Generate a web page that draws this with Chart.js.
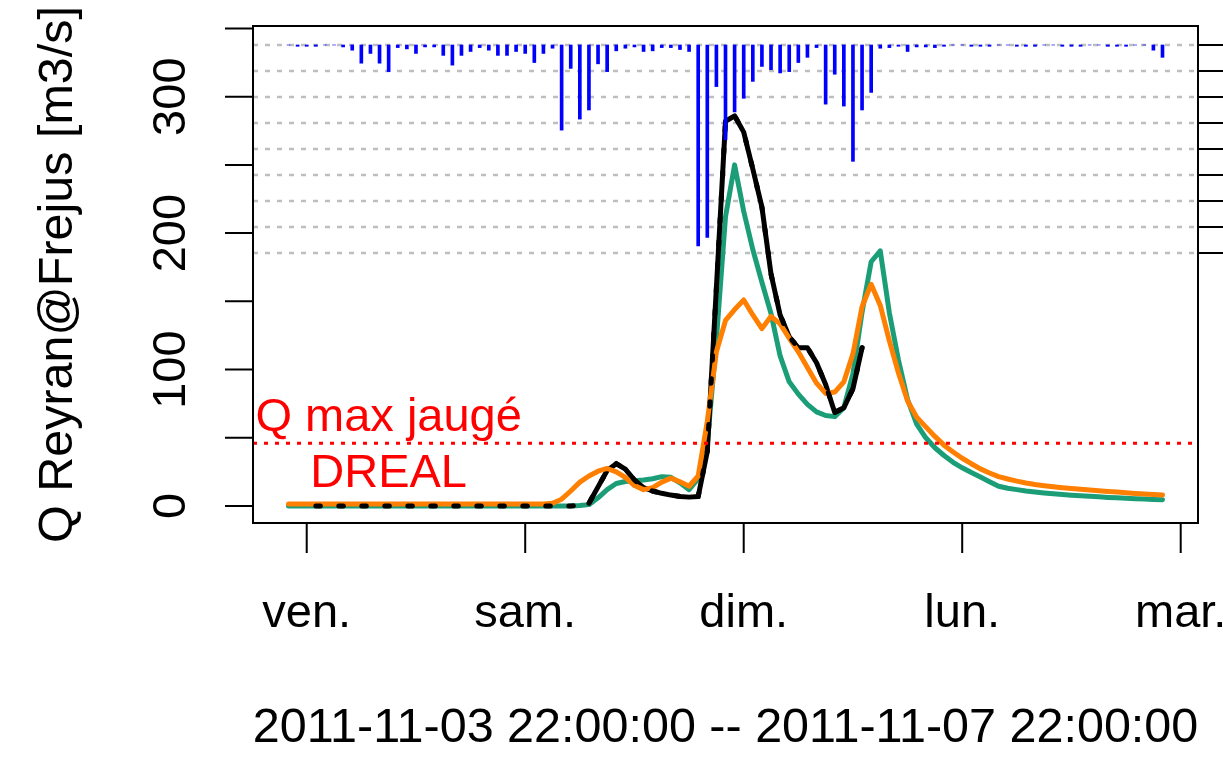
<!DOCTYPE html>
<html>
<head>
<meta charset="utf-8">
<script src="https://cdn.jsdelivr.net/npm/chart.js@4"></script>
<style>
  html, body { margin: 0; padding: 0; background: #fff; overflow: hidden; }
</style>
</head>
<body>
<canvas id="hydro" width="1223" height="764"></canvas>
<script>
// hourly series, first value at 2011-11-03 22:00 (hour -2 relative to ven. 00:00)
var startHour = -2;

// rain, mm per hour (hanging from the top)
var rain = [
  0, 0.1, 0.1, 0.1, 0, 0, 0.15, 0.4, 1.4, 0.65,
  1.4, 2.05, 0.2, 0.3, 0.65, 0.15, 0.15, 0.8, 1.55, 0.8,
  0.5, 0.2, 0.4, 0.8, 0.8, 0.5, 0.65, 1.35, 0.65, 0.25,
  6.55, 1.8, 5.7, 5.0, 1.45, 2.05, 0.45, 0.25, 0.15, 0.5,
  0.45, 0.2, 0.2, 0.35, 0.5, 15.45, 14.8, 3.2, 7.3, 5.15,
  4.1, 2.8, 1.65, 1.9, 2.15, 2.05, 1.35, 0.95, 0.2, 4.55,
  2.25, 4.7, 8.95, 5.0, 3.65, 0.25, 0.2, 0.1, 0.5, 0.15,
  0.15, 0.2, 0.1, 0, 0, 0.1, 0.1, 0.1, 0, 0,
  0.1, 0.1, 0.1, 0, 0, 0.1, 0.1, 0.1, 0, 0,
  0.1, 0.1, 0.1, 0, 0, 0.4, 0.95
];

// simulated discharge, green
var simGreen = [
  0, 0, 0, 0, 0, 0, 0, 0, 0, 0,
  0, 0, 0, 0, 0, 0, 0, 0, 0, 0,
  0, 0, 0, 0, 0, 0, 0, 0, 0, 0,
  0, 0, 0.3, 1, 6, 12, 16.5, 18, 18.5, 19,
  20, 21.5, 21, 17, 12, 20, 45, 122, 212, 250,
  216, 188, 164, 141, 110, 91, 82, 74.5, 69, 66.3,
  65.5, 72, 97, 142, 179, 187, 141.5, 107, 78, 60,
  50, 42.7, 37, 32, 28, 24.5, 21.2, 17.8, 14.5, 13,
  12, 11, 10.2, 9.5, 8.9, 8.4, 7.9, 7.5, 7.1, 6.7,
  6.3, 6.0, 5.7, 5.4, 5.1, 4.8, 4.6
];

// simulated discharge, orange
var simOrange = [
  1.5, 1.5, 1.5, 1.5, 1.5, 1.5, 1.5, 1.5, 1.5, 1.5,
  1.5, 1.5, 1.5, 1.5, 1.5, 1.5, 1.5, 1.5, 1.5, 1.5,
  1.5, 1.5, 1.5, 1.5, 1.5, 1.5, 1.5, 1.5, 1.5, 2,
  5, 11, 17.5, 22, 25.5, 27.5, 25, 21, 15, 12,
  13.5, 17.5, 20.4, 17.7, 14.5, 22, 62, 113, 136, 144,
  151, 140, 130, 139, 133.5, 123, 113, 101.5, 90, 82.5,
  83.5, 91, 111.5, 146, 162.5, 147, 121, 97.5, 77, 65,
  58, 51, 44.6, 39.6, 35, 31, 27.2, 24.2, 21.5, 19.8,
  18.2, 16.9, 15.8, 14.9, 14.1, 13.4, 12.8, 12.2, 11.7, 11.2,
  10.7, 10.2, 9.7, 9.2, 8.8, 8.4, 8.0
];

// observed discharge, black
var obs = [
  null, null, null, 0, 0, 0, 0, 0, 0, 0,
  0, 0, 0, 0, 0, 0, 0, 0, 0, 0,
  0, 0, 0, 0, 0, 0, 0, 0, 0, 0,
  0, 0, 0.5, 2, 14, 26, 31, 27, 19, 13.5,
  11, 9.3, 8, 7, 6.5, 7, 40, 160, 282, 286,
  274, 247, 219, 170, 140, 124, 116, 116, 105, 89,
  68.5, 72, 86, 116, null, null, null, null, null, null,
  null, null, null, null, null, null, null, null, null, null,
  null, null, null, null, null, null, null, null, null, null,
  null, null, null, null, null, null, null
];
var obsSolidFrom = 31; // solid line only from this hour on

var dayTicks = [0, 24, 48, 72, 96];
var dayLabels = ['ven.', 'sam.', 'dim.', 'lun.', 'mar.'];
var qTicks = [0, 50, 100, 150, 200, 250, 300, 350];
var qLabels = [0, 100, 200, 300];
var rainTicks = [0, 2, 4, 6, 8, 10, 12, 14, 16];
var qMaxJauge = 46;
var xTitle = '2011-11-03 22:00:00 -- 2011-11-07 22:00:00';
var yTitle = 'Q Reyran@Frejus [m3/s]';

var hours = rain.map(function (v, i) { return startHour + i; });
function pts(arr) {
  return arr.map(function (v, i) { return { x: hours[i], y: v }; });
}

var FONT = '47px "Liberation Sans", Arial, sans-serif';
var TITLE_FONT = '48.5px "Liberation Sans", Arial, sans-serif';

// R-like axes, box, grid and texts
var rPlot = {
  id: 'rPlot',
  beforeDatasetsDraw: function (chart) {
    var ctx = chart.ctx, a = chart.chartArea, rs = chart.scales.rain;
    ctx.save();
    ctx.strokeStyle = '#bebebe';
    ctx.lineWidth = 2.5;
    ctx.setLineDash([5, 7]);
    rainTicks.forEach(function (t) {
      var y = rs.getPixelForValue(t);
      ctx.beginPath(); ctx.moveTo(a.left, y); ctx.lineTo(a.right, y); ctx.stroke();
    });
    ctx.restore();
  },
  afterDatasetsDraw: function (chart) {
    var ctx = chart.ctx, a = chart.chartArea;
    var xs = chart.scales.x, ys = chart.scales.y;
    ctx.save();
    ctx.beginPath(); ctx.rect(a.left, a.top, a.right - a.left, a.bottom - a.top); ctx.clip();
    var yr = ys.getPixelForValue(qMaxJauge);
    ctx.strokeStyle = '#ff0000';
    ctx.lineWidth = 3;
    ctx.setLineDash([4, 7]);
    ctx.beginPath(); ctx.moveTo(a.left, yr); ctx.lineTo(a.right, yr); ctx.stroke();
    ctx.restore();

    ctx.save();
    ctx.fillStyle = '#ff0000';
    ctx.font = FONT;
    ctx.textAlign = 'center';
    ctx.textBaseline = 'alphabetic';
    ctx.fillText('Q max jaugé', xs.getPixelForValue(9), ys.getPixelForValue(54.7));
    ctx.fillText('DREAL', xs.getPixelForValue(9), ys.getPixelForValue(13.9));
    ctx.restore();
  },
  afterDraw: function (chart) {
    var ctx = chart.ctx, a = chart.chartArea;
    var xs = chart.scales.x, ys = chart.scales.y, rs = chart.scales.rain;
    ctx.save();
    ctx.strokeStyle = '#000';
    ctx.lineWidth = 2;
    ctx.setLineDash([]);
    ctx.strokeRect(a.left, a.top, a.right - a.left, a.bottom - a.top);

    ctx.beginPath();
    qTicks.forEach(function (t) {
      var y = ys.getPixelForValue(t);
      ctx.moveTo(a.left, y); ctx.lineTo(a.left - 28, y);
    });
    dayTicks.forEach(function (t) {
      var x = xs.getPixelForValue(t);
      ctx.moveTo(x, a.bottom); ctx.lineTo(x, a.bottom + 30);
    });
    rainTicks.forEach(function (t) {
      var y = rs.getPixelForValue(t);
      ctx.moveTo(a.right, y); ctx.lineTo(a.right + 28, y);
    });
    ctx.stroke();

    ctx.fillStyle = '#000';
    ctx.font = FONT;
    ctx.textAlign = 'center';
    ctx.textBaseline = 'alphabetic';
    dayTicks.forEach(function (t, i) {
      ctx.fillText(dayLabels[i], xs.getPixelForValue(t), a.bottom + 104);
    });

    qLabels.forEach(function (t) {
      ctx.save();
      ctx.translate(a.left - 68, ys.getPixelForValue(t));
      ctx.rotate(-Math.PI / 2);
      ctx.fillText(String(t), 0, 0);
      ctx.restore();
    });

    ctx.font = TITLE_FONT;
    ctx.fillText(xTitle, (a.left + a.right) / 2, a.bottom + 219);
    ctx.save();
    ctx.translate(72, (a.top + a.bottom) / 2);
    ctx.rotate(-Math.PI / 2);
    ctx.fillText(yTitle, 0, 0);
    ctx.restore();
    ctx.restore();
  }
};

function zeroW(s) { s.width = 0; }
function zeroH(s) { s.height = 0; }

var ctx = document.getElementById('hydro').getContext('2d');
new Chart(ctx, {
  type: 'line',
  data: {
    datasets: [
      {
        type: 'bar', data: pts(rain), yAxisID: 'rain', order: 0,
        backgroundColor: '#0000ff', borderWidth: 0, barThickness: 3
      },
      {
        data: pts(obs), yAxisID: 'y', order: 1,
        borderColor: '#000', borderWidth: 5, borderDash: [4.5, 18.5],
        borderCapStyle: 'round', pointRadius: 0, tension: 0, fill: false
      },
      {
        data: pts(simOrange), yAxisID: 'y', order: 2,
        borderColor: '#ff7f00', borderWidth: 5, borderJoinStyle: 'round',
        borderCapStyle: 'round', pointRadius: 0, tension: 0, fill: false
      },
      {
        data: pts(obs.map(function (v, i) { return hours[i] >= obsSolidFrom ? v : null; })),
        yAxisID: 'y', order: 3,
        borderColor: '#000', borderWidth: 5, borderJoinStyle: 'round',
        borderCapStyle: 'round', pointRadius: 0, tension: 0, fill: false
      },
      {
        data: pts(simGreen), yAxisID: 'y', order: 4,
        borderColor: '#1b9e77', borderWidth: 5, borderJoinStyle: 'round',
        borderCapStyle: 'round', pointRadius: 0, tension: 0, fill: false
      }
    ]
  },
  options: {
    responsive: false,
    animation: false,
    events: [],
    layout: { padding: { left: 253, right: 25, top: 26, bottom: 241 } },
    plugins: { legend: { display: false }, tooltip: { enabled: false } },
    scales: {
      x: {
        type: 'linear', min: -5.9, max: 97.9, offset: false,
        ticks: { display: false }, grid: { display: false }, border: { display: false },
        afterFit: zeroH
      },
      y: {
        type: 'linear', position: 'left', min: -12.46, max: 351.8,
        ticks: { display: false }, grid: { display: false }, border: { display: false },
        afterFit: zeroW
      },
      rain: {
        type: 'linear', position: 'right', reverse: true, min: -1.46, max: 36.77,
        ticks: { display: false }, grid: { display: false }, border: { display: false },
        afterFit: zeroW
      }
    }
  },
  plugins: [rPlot]
});
</script>
</body>
</html>
